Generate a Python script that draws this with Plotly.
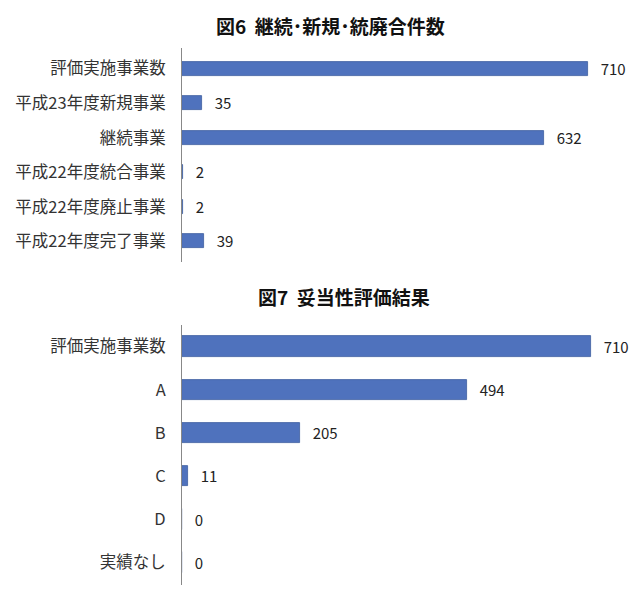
import plotly.graph_objects as go

# Figure 6 data
cats6 = ['評価実施事業数', '平成23年度新規事業', '継続事業',
         '平成22年度統合事業', '平成22年度廃止事業', '平成22年度完了事業']
vals6 = [710, 35, 632, 2, 2, 39]

# Figure 7 data
cats7 = ['評価実施事業数', 'A', 'B', 'C', 'D', '実績なし']
vals7 = [710, 494, 205, 11, 0, 0]

title6 = '図6  継続･新規･統廃合件数'
title7 = '図7  妥当性評価結果'

bar_color = '#4F72BD'
font_family = 'Noto Sans CJK JP'

W, H = 640, 600
OFF = 8  # page body margin


def fx(px):
    return (px - OFF) / W


def fy(py):
    return 1 - (py - OFF) / H


fig = go.Figure()

fig.add_trace(go.Bar(
    x=vals6, y=cats6, orientation='h',
    marker=dict(color=bar_color, line=dict(color='#3E5E9E', width=0.8)),
    width=0.4,
    text=vals6, texttemplate='   %{x}', textposition='outside',
    constraintext='none',
    textfont=dict(size=15, color='#222222'),
    cliponaxis=False,
    xaxis='x', yaxis='y', showlegend=False,
))

fig.add_trace(go.Bar(
    x=vals7, y=cats7, orientation='h',
    marker=dict(color=bar_color, line=dict(color='#3E5E9E', width=0.8)),
    width=0.47,
    text=vals7, texttemplate='   %{x}', textposition='outside',
    constraintext='none',
    textfont=dict(size=15, color='#222222'),
    cliponaxis=False,
    xaxis='x2', yaxis='y2', showlegend=False,
))

axis_y = dict(
    showline=True, linecolor='#888888', linewidth=1,
    ticks='', showgrid=False, ticklabelstandoff=12,
    tickfont=dict(size=16.5, color='#333333'),
)
axis_x = dict(visible=False, showgrid=False, zeroline=False)

fig.update_layout(
    width=W, height=H,
    margin=dict(l=0, r=0, t=0, b=0),
    paper_bgcolor='white', plot_bgcolor='white',
    font=dict(family=font_family),
    bargap=0,
    xaxis=dict(axis_x, domain=[fx(182), fx(614)], range=[0, 755], anchor='y'),
    yaxis=dict(axis_y, domain=[fy(262), fy(48)], range=[5.6, -0.6], anchor='x'),
    xaxis2=dict(axis_x, domain=[fx(182), fx(614)], range=[0, 750], anchor='y2'),
    yaxis2=dict(axis_y, domain=[fy(585), fy(325)], range=[5.52, -0.5], anchor='x2'),
    annotations=[
        dict(text='<b>' + title6 + '</b>', x=fx(330), y=fy(10),
             xref='paper', yref='paper', showarrow=False,
             xanchor='center', yanchor='top',
             font=dict(size=19, color='#111111')),
        dict(text='<b>' + title7 + '</b>', x=fx(344), y=fy(296),
             xref='paper', yref='paper', showarrow=False,
             xanchor='center', yanchor='middle',
             font=dict(size=19, color='#111111')),
    ],
)

fig.write_html('out.html')
